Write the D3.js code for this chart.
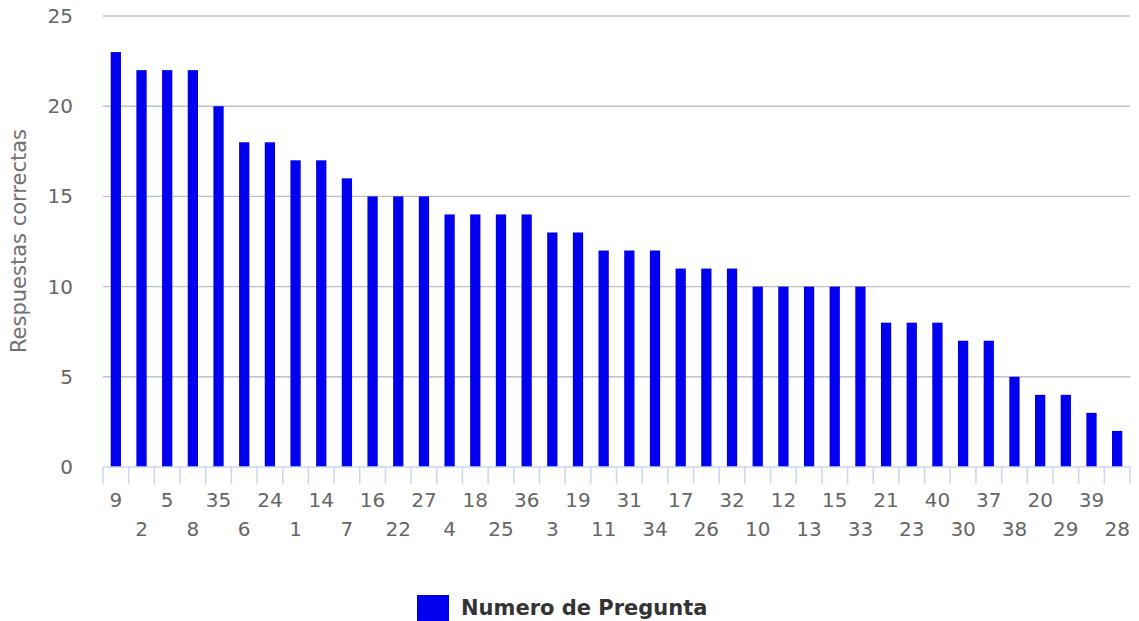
<!DOCTYPE html>
<html>
<head>
<meta charset="utf-8">
<script src="https://cdn.jsdelivr.net/npm/d3@7"></script>
<style>
  body { margin: 0; background: #fff; }
  svg { font-family: "DejaVu Sans", sans-serif; }
</style>
</head>
<body>
<div id="chart"></div>
<script>
// question numbers, in display order
const preguntas = ["9","2","5","8","35","6","24","1","14","7","16","22","27","4","18","25","36","3","19","11",
                   "31","34","17","26","32","10","12","13","15","33","21","23","40","30","37","38","20","29","39","28"];
// correct answers per question
const correctas = [23,22,22,22,20,18,18,17,17,16,15,15,15,14,14,14,14,13,13,12,
                   12,12,11,11,11,10,10,10,10,10,8,8,8,7,7,5,4,4,3,2];
const yTicks = [0, 5, 10, 15, 20, 25];
const serieNombre = "Numero de Pregunta";
const ejeY = "Respuestas correctas";

const W = 1139, H = 621;
const margin = {left: 103, right: 9, top: 16, bottom: 154};
const width = W - margin.left - margin.right;
const height = H - margin.top - margin.bottom;

const svg = d3.select("#chart").append("svg")
              .attr("width", W).attr("height", H);
const g = svg.append("g")
             .attr("transform", "translate(" + margin.left + "," + margin.top + ")");

const x = d3.scaleBand(preguntas, [0, width]).paddingInner(0.6).paddingOuter(0.3);
const y = d3.scaleLinear([0, 25], [height, 0]);

// grid
g.append("g")
 .selectAll("line")
 .data(yTicks.filter(d => d > 0))
 .join("line")
 .attr("x1", 0).attr("x2", width)
 .attr("y1", d => y(d)).attr("y2", d => y(d))
 .attr("stroke", "#c0c0c0").attr("stroke-width", 1.4);

// y labels
g.append("g")
 .selectAll("text")
 .data(yTicks)
 .join("text")
 .attr("x", -30)
 .attr("y", d => y(d))
 .attr("dy", "0.35em")
 .attr("text-anchor", "end")
 .attr("fill", "#666")
 .style("font-size", "20px")
 .text(d => d);

// y title
svg.append("text")
   .attr("transform", "translate(26," + 241 + ") rotate(-90)")
   .attr("text-anchor", "middle")
   .attr("fill", "#707070")
   .style("font-size", "21px")
   .text(ejeY);

// bars
g.append("g")
 .selectAll("rect")
 .data(preguntas)
 .join("rect")
 .attr("x", (d, i) => x(d))
 .attr("y", (d, i) => y(correctas[i]))
 .attr("width", x.bandwidth())
 .attr("height", (d, i) => y(0) - y(correctas[i]))
 .attr("fill", "#0000ee");

// x axis line + ticks at band edges
const edges = d3.range(preguntas.length + 1).map(i => i * width / preguntas.length);
const xa = g.append("g").attr("transform", "translate(0," + height + ")");
xa.append("line").attr("x1", 0).attr("x2", width)
  .attr("stroke", "#ccd6eb").attr("stroke-width", 1.5);
xa.selectAll("line.tick")
  .data(edges)
  .join("line")
  .attr("class", "tick")
  .attr("x1", d => d).attr("x2", d => d)
  .attr("y1", 0).attr("y2", 17)
  .attr("stroke", "#ccd6eb").attr("stroke-width", 1.5);
xa.selectAll("text")
  .data(preguntas)
  .join("text")
  .attr("x", d => x(d) + x.bandwidth() / 2)
  .attr("y", (d, i) => i % 2 === 0 ? 40 : 69)
  .attr("text-anchor", "middle")
  .attr("fill", "#666")
  .style("font-size", "20px")
  .text(d => d);

// legend
const lg = svg.append("g").attr("transform", "translate(417,595)");
lg.append("rect").attr("width", 32).attr("height", 30).attr("fill", "#0000ee");
lg.append("text")
  .attr("x", 44).attr("y", 20)
  .attr("fill", "#333")
  .style("font-size", "21px")
  .style("font-weight", "bold")
  .text(serieNombre);
</script>
</body>
</html>
